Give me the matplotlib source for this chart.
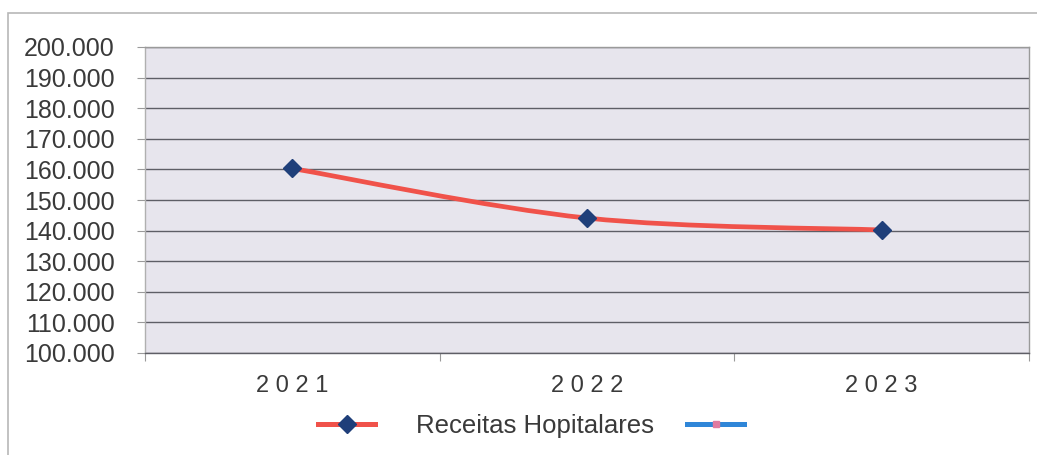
import matplotlib
matplotlib.use("Agg")
import matplotlib.pyplot as plt
from matplotlib.path import Path
from matplotlib.patches import PathPatch, Rectangle
from matplotlib.lines import Line2D

# dados
anos = ["2021", "2022", "2023"]
receitas = [160.3, 144.1, 140.2]
y_ticks = [100, 110, 120, 130, 140, 150, 160, 170, 180, 190, 200]

plt.rcParams["font.family"] = ["Liberation Sans", "DejaVu Sans"]

fig = plt.figure(figsize=(10.37, 4.55), dpi=100)
fig.patch.set_facecolor("white")

# moldura externa
fig.add_artist(Rectangle((8 / 1037, -0.05), 1.1, (455 - 13) / 455 + 0.05,
                         transform=fig.transFigure, fill=False,
                         edgecolor="#b8b8b8", linewidth=1.2))

ax = fig.add_axes([145 / 1037, 1 - 353 / 455, (1029 - 145) / 1037, (353 - 47) / 455])
ax.set_facecolor("#e7e5ed")

x = list(range(len(anos)))
ax.set_xlim(-0.5, len(anos) - 0.5)
ax.set_ylim(100, 200)

# linha suavizada (catmull-rom -> bezier)
pts = list(zip(x, receitas))
verts = [pts[0]]
codes = [Path.MOVETO]
for i in range(len(pts) - 1):
    p0 = pts[i - 1] if i > 0 else pts[i]
    p1 = pts[i]
    p2 = pts[i + 1]
    p3 = pts[i + 2] if i + 2 < len(pts) else pts[i + 1]
    c1 = (p1[0] + (p2[0] - p0[0]) / 6, p1[1] + (p2[1] - p0[1]) / 6)
    c2 = (p2[0] - (p3[0] - p1[0]) / 6, p2[1] - (p3[1] - p1[1]) / 6)
    verts += [c1, c2, p2]
    codes += [Path.CURVE4] * 3
ax.add_patch(PathPatch(Path(verts, codes), facecolor="none",
                       edgecolor="#f0524a", linewidth=3.4, zorder=3))
ax.plot(x, receitas, linestyle="none", marker="D", markersize=9,
        color="#1f3f7a", zorder=4)

ax.set_yticks(y_ticks)
ax.set_yticklabels([f"{v}.000" for v in y_ticks], fontsize=18, color="#3a3a3a")
ax.yaxis.grid(True, color="#5e5e66", linewidth=1.0)
ax.set_axisbelow(True)

ax.set_xticks([i - 0.5 for i in range(len(anos) + 1)])
ax.set_xticklabels([])
ax.set_xticks(x, minor=True)
ax.set_xticklabels([" ".join(a) for a in anos], minor=True,
                   fontsize=17, color="#3a3a3a")
ax.tick_params(axis="x", which="minor", length=0, pad=16)
ax.tick_params(axis="x", which="major", length=6, color="#9a9a9a")
ax.tick_params(axis="y", length=6, color="#9a9a9a", pad=16)

for s in ax.spines.values():
    s.set_color("#9a9a9a")
    s.set_linewidth(1.0)
ax.spines["left"].set_color("#b0b0b0")
ax.spines["bottom"].set_color("#5e5e66")

h1 = Line2D([], [], color="#f0524a", linewidth=3.6, marker="D",
            markersize=9, markerfacecolor="#1f3f7a", markeredgecolor="#1f3f7a")
h2 = Line2D([], [], color="#2f86d8", linewidth=3.6, marker="s",
            markersize=5, markerfacecolor="#e07aa0", markeredgecolor="#e07aa0")
fig.legend([h1, h2], ["Receitas Hopitalares", ""], loc="center",
           bbox_to_anchor=(0.532, 1 - 426 / 455), ncol=2, frameon=False,
           fontsize=18.5, handlelength=2.2, handletextpad=1.6,
           columnspacing=1.3, labelcolor="#3a3a3a")

plt.savefig("out.png", dpi=100)
